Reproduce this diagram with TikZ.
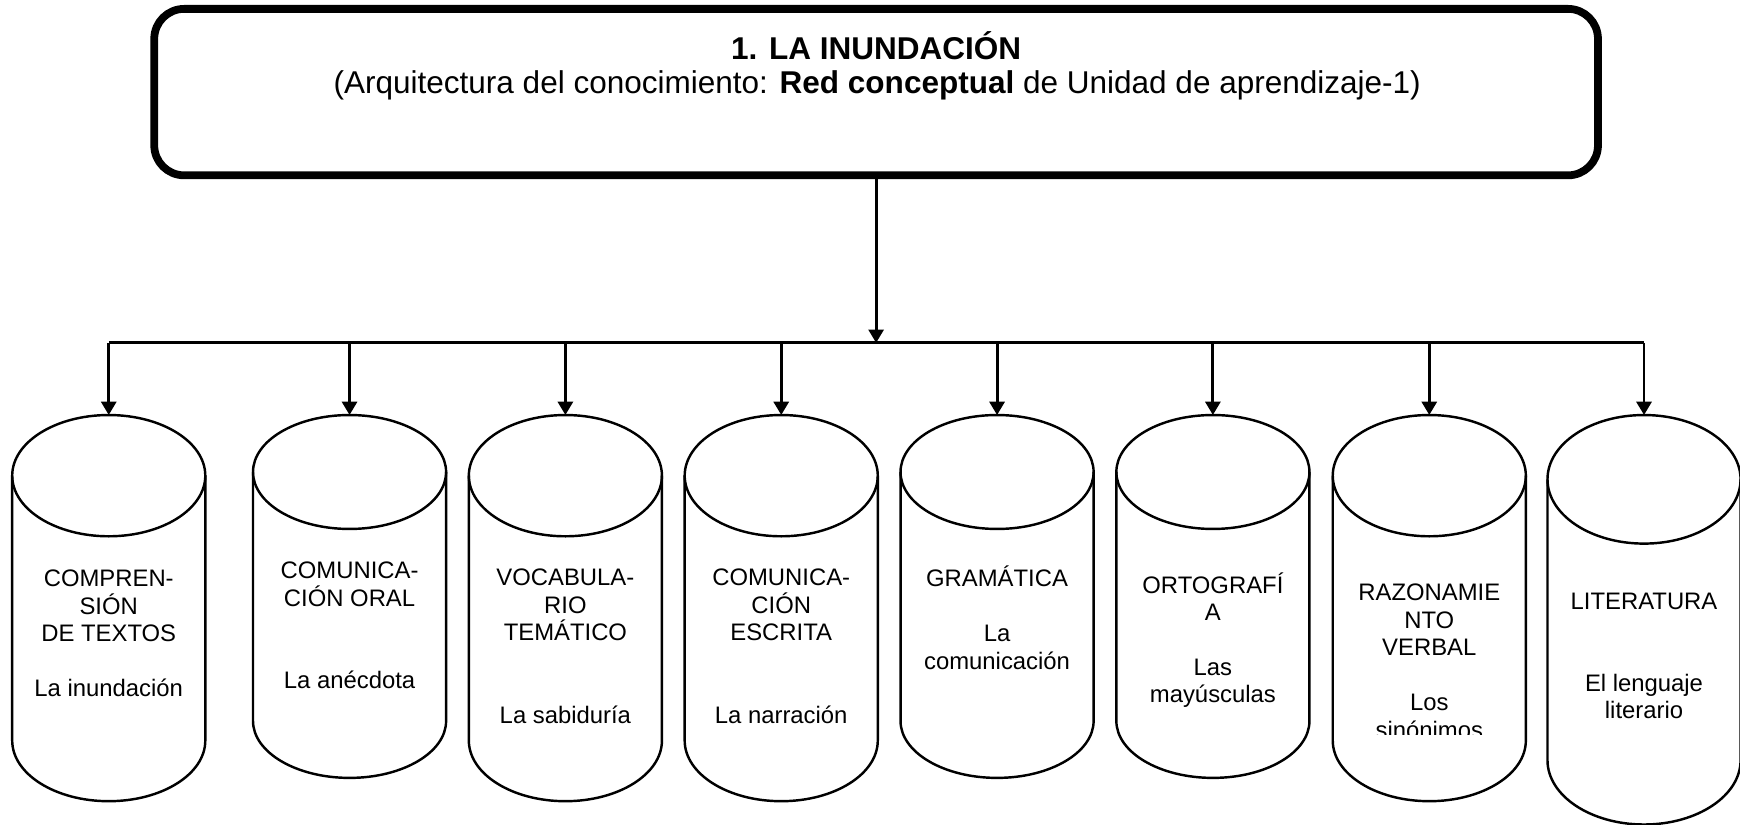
\documentclass[tikz,border=0pt]{standalone}
\usepackage{fontspec}
\setmainfont{Liberation Sans}
\usetikzlibrary{arrows.meta}
\newcommand\fstrut{\rule{0pt}{22pt}}

\begin{document}
\begin{tikzpicture}[x=1pt, y=1pt,
  conn/.style={line width=2.6pt, -{Triangle[width=13.5pt,length=12pt]}},
  busline/.style={line width=2.6pt},
  canline/.style={line width=2.2pt},
  can/.style={minimum width=174pt, inner sep=0pt, outer sep=0pt, anchor=north},
  lbl/.style={anchor=north, align=center, inner sep=0pt, font=\fontsize{21.5}{24.75}\selectfont},
  head/.style={anchor=base, inner sep=0pt, font=\fontsize{28.4}{32}\selectfont}]
\useasboundingbox (0,0) rectangle (1568,-743);

% unit box
\node[draw, line width=7pt, rounded corners=27pt, minimum width=1301pt, minimum height=150pt, inner sep=0pt] (unit) at (789.5,-83) {};
\node[head] (title) at (789.5,-53.5) {\bfseries 1. LA INUNDACIÓN};
\node[head] (subtitle) at (790.5,-84.7) {(Arquitectura del conocimiento: \textbf{Red conceptual} de Unidad de aprendizaje-1)};

% cans
\foreach \n/\x/\h in {c1/98/348, c2/315/327, c3/509.5/348, c4/704/348, c5/898.5/327, c6/1093/327, c7/1288/348, c8/1481.5/369} {
  \node[can, minimum height=\h] (\n) at (\x,-374) {};
  \pgfmathsetmacro\ry{0.157*\h}
  \draw[canline] (\x-87,-374-\ry) -- (\x-87,-374-\h+\ry) arc[start angle=180, end angle=360, x radius=87, y radius=\ry] -- (\x+87,-374-\ry);
  \draw[canline] (\x,-374-\ry) ellipse[x radius=87, y radius=\ry];
}

% connectors
\coordinate (hub) at (789.5,-309);
\coordinate (busL) at (98,-309);
\coordinate (busR) at (1481.5,-309);
\draw[conn] (unit.south) -- (hub);
\draw[busline] (busL) -- (busR);
\foreach \n in {c1,c2,c3,c4,c5,c6,c7,c8}
  \draw[conn] (\n |- hub) -- (\n.north);

% labels
\node[lbl] (t1) at (98,-506.7) {\fstrut COMPREN-\\SIÓN\\DE TEXTOS\\[24.75pt]La inundación};
\node[lbl] (t2) at (315,-499.2) {\fstrut COMUNICA-\\CIÓN ORAL\\[49.5pt]La anécdota};
\node[lbl] (t3) at (509.5,-505.7) {\fstrut VOCABULA-\\RIO\\TEMÁTICO\\[49.5pt]La sabiduría};
\node[lbl] (t4) at (704,-505.7) {\fstrut COMUNICA-\\CIÓN\\ESCRITA\\[49.5pt]La narración};
\node[lbl] (t5) at (898.5,-506.7) {\fstrut GRAMÁTICA\\[24.75pt]La\\comunicación};
\node[lbl] (t6) at (1093,-512.2) {\fstrut ORTOGRAFÍ\\A\\[24.75pt]Las\\mayúsculas};
\begin{scope}
  \clip (1201,-374) rectangle (1375,-661.5);
  \node[lbl] (t7) at (1288,-519.2) {\fstrut RAZONAMIE\\NTO\\VERBAL\\[24.75pt]Los\\sinónimos};
\end{scope}
\node[lbl] (t8) at (1481.5,-526.7) {\fstrut LITERATURA\\[49.5pt]El lenguaje\\literario};
\end{tikzpicture}
\end{document}
